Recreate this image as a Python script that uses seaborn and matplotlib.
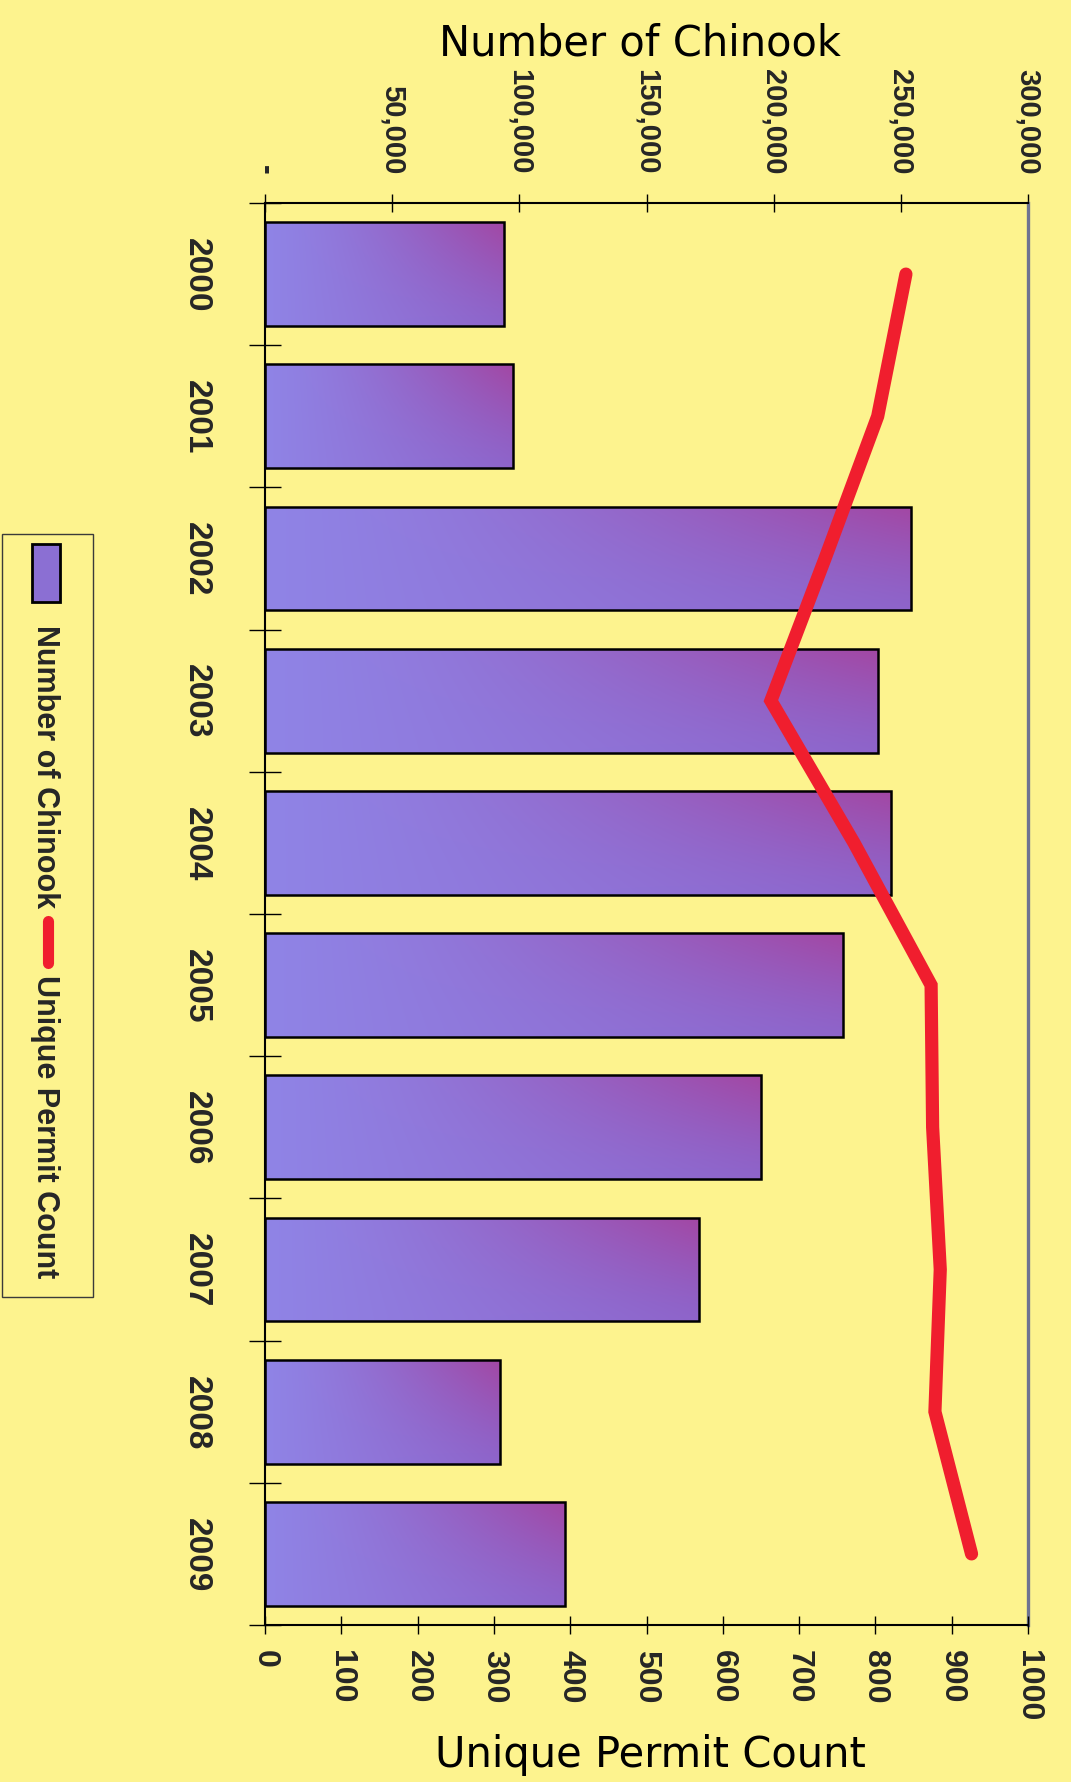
import numpy as np
import pandas as pd
import matplotlib
matplotlib.use("Agg")
import matplotlib.pyplot as plt
import seaborn as sns
from matplotlib.patches import Rectangle
from matplotlib.lines import Line2D
from matplotlib.colors import to_rgb

# ---- data -------------------------------------------------------------
years = ["2000", "2001", "2002", "2003", "2004",
         "2005", "2006", "2007", "2008", "2009"]
chinook = [94000, 97400, 253900, 241100, 246000,
           227200, 195000, 170600, 92400, 118000]
permits = [840, 803, 734, 663, 772, 873, 875, 885, 878, 926]

chinook_ticks = [0, 50000, 100000, 150000, 200000, 250000, 300000]
chinook_ticklabels = ["-", "50,000", "100,000", "150,000",
                      "200,000", "250,000", "300,000"]
permit_ticks = [0, 100, 200, 300, 400, 500, 600, 700, 800, 900, 1000]
permit_ticklabels = [str(t) for t in permit_ticks]

# ---- style ------------------------------------------------------------
BG = "#FDF38E"
BAR_MID = "#8B6FD3"
RED = "#F01E2E"
RIGHT_SPINE = "#6E7391"

sns.set_theme(style="ticks")
SANS = ["Liberation Sans", "DejaVu Sans"]
plt.rcParams["font.family"] = SANS

W, H = 1071, 1783
fig = plt.figure(figsize=(W / 100, H / 100), dpi=100)
fig.patch.set_facecolor(BG)


def fx(px):
    return px / W


def fy(py):
    return 1 - py / H


L, R, T, B = 265, 1028, 204, 1626
ax = fig.add_axes([fx(L), fy(B), (R - L) / W, (B - T) / H])
ax.set_facecolor(BG)

df = pd.DataFrame({"year": years, "chinook": chinook, "permits": permits})
df["pos"] = np.arange(len(df))

# horizontal bars: Number of Chinook (top axis)
sns.barplot(data=df, x="chinook", y="year", orient="h", width=0.73,
            color=BAR_MID, saturation=1, edgecolor="black", linewidth=1.8,
            ax=ax)

# gradient fill inside every bar: lavender on the left, magenta at top right
c_left = np.array(to_rgb("#9084E6"))
c_right = np.array(to_rgb("#8E64CA"))
c_mag = np.array(to_rgb("#A8409A"))
nr, nc = 64, 256
u = np.linspace(0, 1, nc)[None, :]
v = np.linspace(0, 1, nr)[:, None]
base = c_left[None, None, :] * (1 - u[..., None]) + c_right[None, None, :] * u[..., None]
tint = (u ** 2.2) * (1 - v) ** 1.3 * 0.8
grad = base * (1 - tint[..., None]) + c_mag[None, None, :] * tint[..., None]

for p in list(ax.patches):
    x0, y0, w, h = p.get_x(), p.get_y(), p.get_width(), p.get_height()
    y_top, y_bot = min(y0, y0 + h), max(y0, y0 + h)
    im = ax.imshow(grad, extent=(x0, x0 + w, y_bot, y_top), origin="upper",
                   aspect="auto", interpolation="bilinear", zorder=1.9)
    im.set_clip_path(p)
    p.set_facecolor("none")
    p.set_zorder(2.1)

ax.set_xlim(0, 300000)
ax.set_ylim(9.5, -0.5)

# line: Unique Permit Count (bottom axis)
ax2 = ax.twiny()
sns.lineplot(data=df, x="permits", y="pos", sort=False, color=RED,
             linewidth=9.5, ax=ax2, solid_capstyle="round",
             solid_joinstyle="miter")
ax2.set_xlim(0, 1000)
ax.set_ylim(9.5, -0.5)

# ---- axes decoration --------------------------------------------------
top_font = dict(fontsize=21, fontweight="bold", family=SANS)
bottom_font = dict(fontsize=23, fontweight="bold", family=SANS)

ax.xaxis.tick_top()
ax.xaxis.set_label_position("top")
ax.set_xticks(chinook_ticks)
ax.set_xticklabels(chinook_ticklabels, **top_font)
ax.tick_params(axis="x", which="major", direction="inout", length=13,
               width=1, color="black", pad=15, labelrotation=270,
               top=True, bottom=False, labeltop=True, labelbottom=False)
ax.set_xlabel("")
ax.set_ylabel("")

ax.set_yticks(range(len(years)))
ax.set_yticklabels(years, fontsize=24, fontweight="bold", family=SANS)
ax.set_yticks(np.arange(-0.5, len(years), 1.0), minor=True)
ax.tick_params(axis="y", which="major", length=0, pad=38, labelrotation=270)
ax.tick_params(axis="y", which="minor", direction="inout", length=23,
               width=1, color="black")
for lab in ax.get_yticklabels():
    lab.set_va("center")
    lab.set_ha("right")

ax2.xaxis.tick_bottom()
ax2.xaxis.set_label_position("bottom")
ax2.set_xticks(permit_ticks)
ax2.set_xticklabels(permit_ticklabels, **bottom_font)
ax2.tick_params(axis="x", which="major", direction="inout", length=13,
                width=1, color="black", pad=11, labelrotation=270,
                top=False, bottom=True, labeltop=False, labelbottom=True)
ax2.set_xlabel("")
ax2.set_ylabel("")

for side in ("left", "top", "bottom"):
    ax.spines[side].set_visible(True)
    ax.spines[side].set_color("black")
    ax.spines[side].set_linewidth(1.5)
ax.spines["right"].set_visible(True)
ax.spines["right"].set_color(RIGHT_SPINE)
ax.spines["right"].set_linewidth(2.4)
for side in ax2.spines:
    ax2.spines[side].set_visible(False)

# axis titles
title_font = dict(fontsize=30, family=["DejaVu Sans"], color="black")
fig.text(fx(640), fy(55), "Number of Chinook", ha="center", va="baseline",
         **title_font)
fig.text(fx(650), fy(1767), "Unique Permit Count", ha="center",
         va="baseline", **title_font)

# legend box, drawn sideways along the left edge
fig.add_artist(Rectangle((fx(2), fy(1298)), 91 / W, (1298 - 535) / H,
                         transform=fig.transFigure, facecolor=BG,
                         edgecolor="#3a3a3a", linewidth=1.0))
fig.add_artist(Rectangle((fx(32), fy(603)), 28 / W, 58 / H,
                         transform=fig.transFigure, facecolor=BAR_MID,
                         edgecolor="black", linewidth=2.0))
legend_font = dict(fontsize=22, fontweight="bold", family=SANS,
                   rotation=270, ha="center", va="center")
fig.text(fx(45), fy((623 + 910) / 2), "Number of Chinook", **legend_font)
fig.add_artist(Line2D([fx(48), fx(48)], [fy(922), fy(964)],
                      transform=fig.transFigure, color=RED, linewidth=8,
                      solid_capstyle="round"))
fig.text(fx(45), fy((973 + 1281) / 2), "Unique Permit Count", **legend_font)

fig.savefig("out.png", dpi=100, facecolor=BG)
